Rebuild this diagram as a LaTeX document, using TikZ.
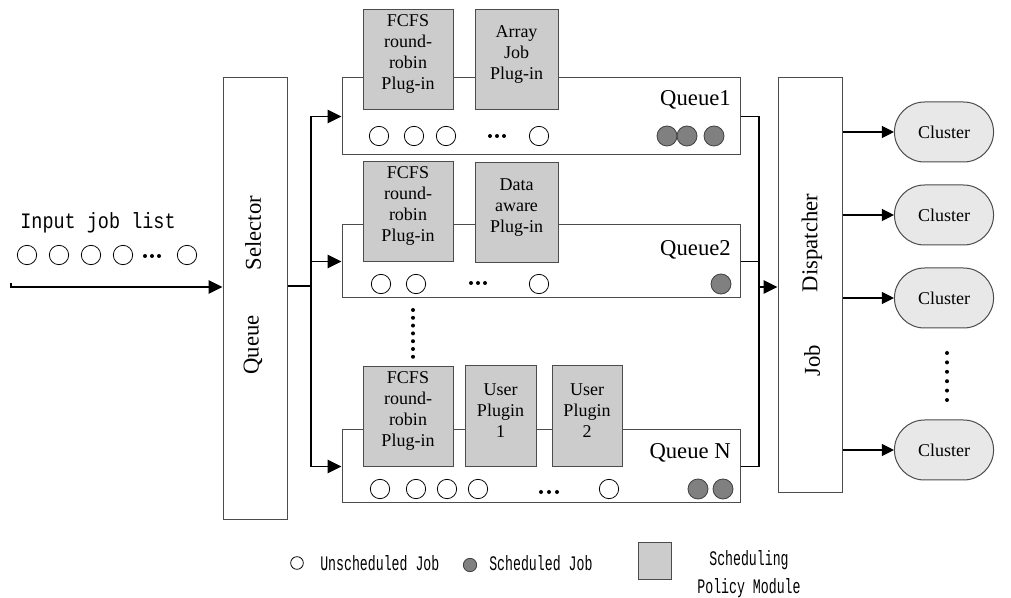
\documentclass[tikz,border=0pt]{standalone}
\usepackage{fontspec}
\setmainfont{Liberation Serif}
\newfontfamily\jobmono[FakeStretch=0.84]{Liberation Mono}
\newfontfamily\keymono[FakeStretch=0.64]{Liberation Mono}
\usetikzlibrary{arrows.meta,fit,shapes.misc}

\tikzset{
  box/.style={draw=black!70, line width=0.75pt, fill=white, inner sep=0pt},
  plug/.style={draw=black!70, line width=0.75pt, fill=black!20, inner sep=0pt,
    align=center, font=\fontsize{13.5}{15.75}\selectfont},
  ujob/.style={circle, draw=black, line width=0.6pt, fill=white,
    minimum size=14.5pt, inner sep=0pt},
  sjob/.style={circle, draw=black!75, line width=0.6pt, fill=black!50,
    minimum size=15pt, inner sep=0pt},
  qlabel/.style={font=\fontsize{17}{20}\selectfont, inner sep=0pt},
  biglabel/.style={font=\fontsize{17}{20}\selectfont, inner sep=0pt},
  cluster/.style={rounded rectangle, draw=black!70, line width=0.75pt,
    fill=black!9, minimum width=81pt, minimum height=45pt,
    font=\fontsize{13.5}{16}\selectfont},
  wire/.style={line width=1.2pt},
  conn/.style={line width=1.2pt, -{Triangle[length=10.5pt, width=10pt]}},
  connsmall/.style={line width=0.9pt, -{Triangle[length=9pt, width=9pt]}},
  legend/.style={font=\keymono\fontsize{15.5}{21.5}\selectfont, inner sep=0pt},
}

\begin{document}
\begin{tikzpicture}[x=0.75pt, y=-0.75pt]
\useasboundingbox (0,0) rectangle (1011,598);

% ---- selector and dispatcher columns
\node[box, fit={(223,78)(287,520)}] (sel) {};
\node[biglabel, rotate=90] (selA) at (253,233) {Selector};
\node[biglabel, rotate=90] (selB) at (253,345) {Queue};

\node[box, fit={(778,78)(842,493)}] (disp) {};
\node[biglabel, rotate=90] (dispA) at (812,243) {Dispatcher};
\node[biglabel, rotate=90] (dispB) at (812,361) {Job};

% ---- input job list
\node[font=\jobmono\fontsize{16.5}{18}\selectfont, inner sep=0pt] (inlbl) at (98,223) {Input job list};
\foreach \x [count=\i] in {27,59,91,123,187}
  \node[ujob] (in\i) at (\x,255) {};
\foreach \x in {145,152,159} \fill (\x,256) circle (1.5pt);

\coordinate (inA) at (11,283);
\coordinate (inB) at (11,287);
\draw[conn] (inA) -- (inB) -- (sel.west |- inB);

% ---- queue boxes
\node[box, fit={(342,78)(740,155)}] (q1) {};
\node[box, fit={(342,225)(740,298)}] (q2) {};
\node[box, fit={(342,430)(740,503)}] (qN) {};

% ---- scheduling policy plug-ins
\node[plug, fit={(363,10)(453,110)}] (q1pA) {FCFS\\round-\\robin\\Plug-in};
\node[plug, fit={(475,10)(558,110)}] (q1pB) {Array\\Job\\Plug-in};
\node[plug, fit={(363,162)(453,262)}] (q2pA) {FCFS\\round-\\robin\\Plug-in};
\node[plug, fit={(475,163)(558,263)}] (q2pB) {Data\\aware\\Plug-in};
\node[plug, fit={(363,367)(453,467)}] (qNpA) {FCFS\\round-\\robin\\Plug-in};
\node[plug, fit={(465,366)(536,467)}] (qNpB) {User\\Plugin\\1};
\node[plug, fit={(552,366)(622,467)}] (qNpC) {User\\Plugin\\2};

% ---- queue names
\node[qlabel, anchor=east] (q1l) at (731,100) {Queue1};
\node[qlabel, anchor=east] (q2l) at (731,250) {Queue2};
\node[qlabel, anchor=east] (qNl) at (731,453) {Queue N};

% ---- jobs waiting in the queues
\foreach \x [count=\i] in {379,414,446,539} \node[ujob] (q1u\i) at (\x,136) {};
\foreach \x in {490,497,504} \fill (\x,136) circle (1.5pt);
\foreach \x [count=\i] in {667,687,714} \node[sjob] (q1s\i) at (\x,136) {};

\foreach \x [count=\i] in {381,416,539} \node[ujob] (q2u\i) at (\x,284) {};
\foreach \x in {471,478,485} \fill (\x,283) circle (1.5pt);
\node[sjob] (q2s1) at (721,284) {};

\foreach \x [count=\i] in {380,416,447,478,609} \node[ujob] (qNu\i) at (\x,489) {};
\foreach \x in {541,549,557} \fill (\x,492) circle (1.5pt);
\foreach \x [count=\i] in {698,723} \node[sjob] (qNs\i) at (\x,489) {};

% ---- omitted queues
\foreach \y in {310,317.8,...,358} \fill (413,\y) circle (1.5pt);

% ---- selector to queues
\coordinate (sb) at (311,286);
\draw[wire] (sel.east |- sb) -- (sb);
\draw[conn] (sb) |- (q1.west);
\draw[conn] (sb) |- (q2.west);
\draw[conn] (sb) |- (qN.west);
\draw[line width=1.6pt] (311,262) -- (311,313);

% ---- queues to dispatcher
\coordinate (cb) at (759,287);
\draw[wire] (q1.east) -| (cb);
\draw[wire] (q2.east) -| (cb);
\draw[wire] (qN.east) -| (cb);
\draw[line width=1.6pt] (759,238) -- (759,322);
\draw[conn] (cb) -- (disp.west |- cb);

% ---- clusters
\node[cluster] (c1) at (944,132) {Cluster};
\node[cluster] (c2) at (944,215) {Cluster};
\node[cluster] (c3) at (944,298) {Cluster};
\node[cluster] (c4) at (944,450) {Cluster};
\foreach \c in {c1,c2,c3,c4} \draw[connsmall] (disp.east |- \c) -- (\c);
\foreach \y in {353,362.4,...,401} \fill (947,\y) circle (1.5pt);

% ---- legend
\node[ujob, minimum size=9.5pt] (lu) at (297,563) {};
\node[legend, anchor=west] (lut) at (320,563) {Unscheduled Job};
\node[sjob, minimum size=10pt] (ls) at (470,565) {};
\node[legend, anchor=west] (lst) at (489,563) {Scheduled Job};
\node[plug, fit={(638,543)(671,580)}] (lp) {};
\node[legend, align=center] (lpt) at (749,574) {Scheduling\\Policy Module};
\end{tikzpicture}
\end{document}
